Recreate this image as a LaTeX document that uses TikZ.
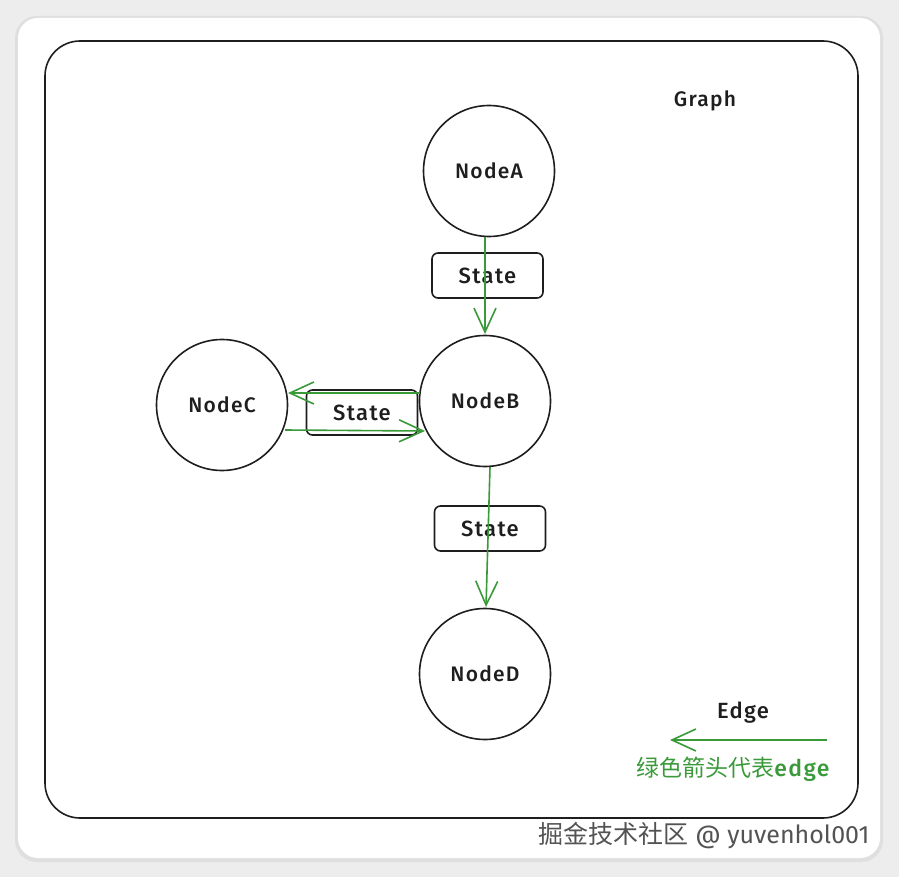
\documentclass[tikz,border=0pt]{standalone}
\usepackage{fontspec}
\setmainfont{Fira Sans}
\newfontfamily\hand[LetterSpace=6]{Fira Sans Medium}
\newfontfamily\cjk{Noto Sans CJK SC}
\usetikzlibrary{arrows.meta}
\definecolor{edgegreen}{HTML}{3A9A3A}
\definecolor{bgpage}{HTML}{EDEDED}
\definecolor{inkc}{HTML}{1E1E1E}
\tikzset{
  x=1pt,y=-1pt,
  nodecirc/.style={circle,draw=inkc,line width=1.6pt,minimum size=131pt,inner sep=0pt,font=\hand\fontsize{21}{24}\selectfont,text=inkc},
  statebox/.style={rectangle,rounded corners=6pt,draw=inkc,line width=1.6pt,minimum width=111pt,minimum height=45pt,inner sep=0pt,font=\hand\fontsize{22}{25}\selectfont,text=inkc},
  edgearrow/.style={draw=edgegreen,line width=1.6pt,-{Straight Barb[length=24pt,width=22pt,line width=1.6pt]}},
}
\begin{document}
\begin{tikzpicture}
\useasboundingbox (0,0) rectangle (899,877);
\fill[bgpage] (0,0) rectangle (899,877);
\fill[gray!25,rounded corners=22pt] (15,16) rectangle (883,862);
\fill[white,rounded corners=20pt] (18,18) rectangle (880,858);
\draw[inkc,line width=1.6pt,rounded corners=35pt] (45,41) rectangle (858,818);

\node[text=inkc,font=\hand\fontsize{21}{24}\selectfont] (graph) at (705,101) {Graph};

\node[nodecirc] (A) at (489,171) {NodeA};
\node[nodecirc] (B) at (485,401) {NodeB};
\node[nodecirc] (C) at (222,405) {NodeC};
\node[nodecirc] (D) at (485,674) {NodeD};

\node[statebox] (S1) at (487.5,275.5) {State};
\node[statebox] (S2) at (362,412.5) {State};
\node[statebox] (S3) at (490,528.5) {State};

\coordinate (a1) at (485,237);
\coordinate (b1) at (485,334);
\draw[edgearrow] (a1) -- (b1);
\coordinate (b2) at (490,467);
\coordinate (d2) at (486,607);
\draw[edgearrow] (b2) -- (d2);
\coordinate (c3) at (285,430);
\coordinate (b3) at (425,431);
\draw[edgearrow] (c3) -- (b3);
\coordinate (b4) at (420,393);
\coordinate (c4) at (288,393);
\draw[edgearrow] (b4) -- (c4);

\node[text=inkc,font=\hand\fontsize{22}{25}\selectfont] (edgelbl) at (743,713) {Edge};
\coordinate (l1) at (827,740);
\coordinate (l2) at (670,740);
\draw[edgearrow] (l1) -- (l2);
\node[text=edgegreen,font=\fontsize{23}{26}\selectfont] (edgecn) at (733,769) {{\cjk 绿色箭头代表}{\hand edge}};

\node[text=gray!65!black,font=\fontsize{25}{28}\selectfont] (wm) at (704,836) {{\cjk 掘金技术社区} @ yuvenhol001};
\end{tikzpicture}
\end{document}
